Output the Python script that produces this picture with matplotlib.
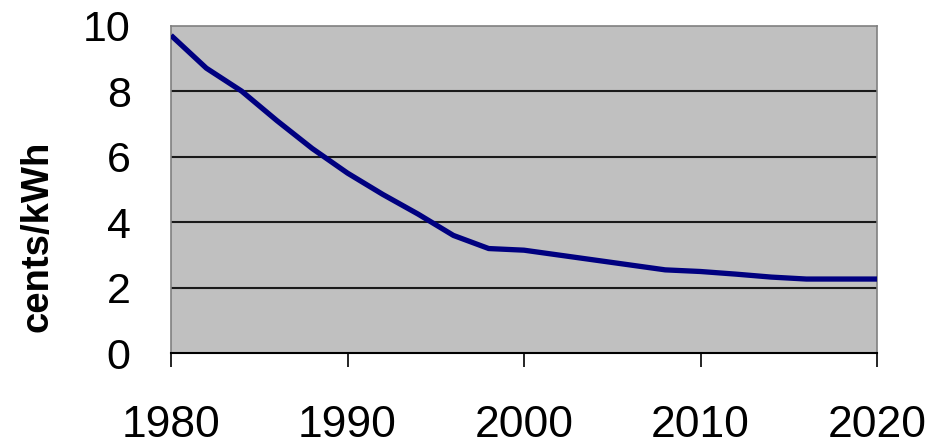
import matplotlib
matplotlib.use("Agg")
import matplotlib.pyplot as plt

years = [1980, 1982, 1984, 1986, 1988, 1990, 1992, 1994, 1996, 1998,
         2000, 2002, 2004, 2006, 2008, 2010, 2012, 2014, 2016, 2018, 2020]
cost = [9.7, 8.7, 8.0, 7.1, 6.25, 5.5, 4.85, 4.25, 3.6, 3.2,
        3.15, 3.0, 2.85, 2.7, 2.55, 2.5, 2.42, 2.33, 2.27, 2.27, 2.27]
xticks = [1980, 1990, 2000, 2010, 2020]
yticks = [0, 2, 4, 6, 8, 10]

plt.rcParams['font.family'] = ['Liberation Sans', 'DejaVu Sans']

fig = plt.figure(figsize=(9.48, 4.46), dpi=100)
ax = fig.add_axes([0.1804, 0.2074, 0.7447, 0.7354])
ax.set_facecolor('#C0C0C0')
ax.plot(years, cost, color='#000080', linewidth=3.8, solid_capstyle='butt', zorder=3)

ax.set_xlim(1980, 2020)
ax.set_ylim(0, 10)
ax.set_xticks(xticks)
ax.set_yticks(yticks)
ax.set_xticklabels([str(v) for v in xticks], fontsize=32)
ax.set_yticklabels([str(v) for v in yticks], fontsize=31)
ax.tick_params(axis='x', direction='out', length=10, width=1.2, pad=27, color='black')
ax.tick_params(axis='y', length=0, pad=29)

for v in yticks[1:-1]:
    ax.axhline(v, color='#1a1a1a', linewidth=1.5, zorder=2)

for s in ['left', 'top', 'right']:
    ax.spines[s].set_color('#808080')
    ax.spines[s].set_linewidth(1.2)
ax.spines['bottom'].set_color('black')
ax.spines['bottom'].set_linewidth(1.5)

fig.text(0.040, 0.471, 'cents/kWh', rotation=90, fontsize=27.5, fontweight='bold',
         ha='center', va='center')

fig.savefig('out.png', dpi=100)
